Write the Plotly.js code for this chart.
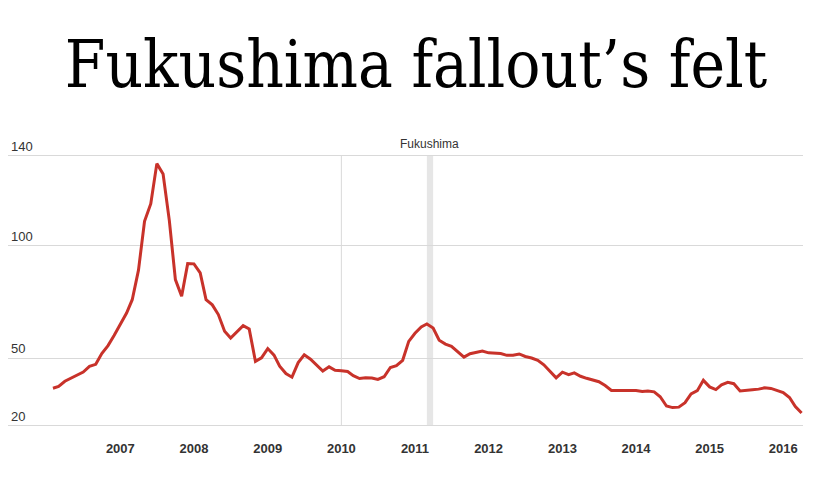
<!DOCTYPE html>
<html>
<head>
<meta charset="utf-8">
<script src="https://cdn.plot.ly/plotly-3.0.1.min.js"></script>
<style>html,body{margin:0;padding:0;background:#fff;}#chart{width:832px;height:486px;}</style>
</head>
<body>
<div id="chart"></div>
<script>
// Monthly series, starting February 2006
var startYear = 2006, startMonth = 2;
var values = [
  36.6,37.4,39.7,41.0,42.2,43.8,46.3,47.2,52.0,55.5,
  60.0,65.0,70.0,75.9,89.0,110.7,118.5,136.3,131.7,111.0,
  84.8,77.4,91.9,91.8,87.8,75.9,73.6,69.3,61.9,58.9,
  61.7,64.4,62.9,48.5,50.1,54.2,51.3,46.4,43.1,41.5,
  48.0,51.4,49.5,46.9,44.2,46.1,44.6,44.4,44.0,42.2,
  40.9,41.2,41.1,40.5,41.7,45.8,46.6,49.0,57.4,61.0,
  63.8,65.1,63.3,57.9,56.2,55.2,52.6,50.4,51.9,52.4,
  53.1,52.3,52.3,52.0,51.2,51.2,51.8,50.7,50.0,49.0,
  47.0,44.0,41.2,43.7,42.6,43.4,41.9,41.0,40.3,39.5,
  37.8,35.6,35.6,35.6,35.6,35.6,35.1,35.4,35.0,32.8,
  28.7,28.0,28.2,30.2,34.1,35.5,40.1,37.2,36.0,38.1,
  39.2,38.6,35.4,35.8,35.9,36.2,36.8,36.5,35.5,34.7,
  32.5,28.5,25.6
];
var yTickVals = [20, 50, 100, 140];
var yTickText = ["20", "50", "100", "140"];
var xTickYears = ["2007","2008","2009","2010","2011","2012","2013","2014","2015","2016"];
var eventLabel = "Fukushima";
var eventStart = "2011-03-01";
var eventEnd = "2011-04-01";
var markerLineDate = "2010-01-01";
var titleText = "Fukushima fallout’s felt";

var dates = [];
for (var i = 0; i < values.length; i++) {
  var m = startMonth - 1 + i;
  var y = startYear + Math.floor(m / 12);
  var mm = (m % 12) + 1;
  dates.push(y + "-" + (mm < 10 ? "0" + mm : mm) + "-01");
}
var xTickVals = xTickYears.map(function (yr) { return yr + "-01-01"; });

var trace = {
  x: dates, y: values, type: "scatter", mode: "lines",
  line: {color: "#c8322a", width: 3, shape: "linear"},
  hoverinfo: "skip"
};

var layout = {
  width: 832, height: 486,
  paper_bgcolor: "#fff", plot_bgcolor: "#fff",
  margin: {l: 8, r: 29, t: 135, b: 57},
  showlegend: false,
  title: {
    text: titleText,
    font: {family: "DejaVu Serif Condensed, DejaVu Serif, serif", size: 65, color: "#000"},
    x: 0.5, xanchor: "center", xref: "container",
    y: 1 - 64/486, yanchor: "middle", yref: "container"
  },
  xaxis: {
    type: "date",
    range: ["2005-06-23", "2016-04-08"],
    tickvals: xTickVals, ticktext: xTickYears,
    showgrid: false, zeroline: false, showline: false,
    ticks: "", ticklabelstandoff: 10,
    tickfont: {family: "Liberation Sans, Arial, sans-serif", size: 13, color: "#333", weight: "bold"}
  },
  yaxis: {
    range: [18.5, 149],
    tickvals: yTickVals, ticktext: yTickText,
    showgrid: true, gridcolor: "#d9d9d9", gridwidth: 1,
    zeroline: false, showline: false, ticks: "",
    ticklabelposition: "inside top",
    tickfont: {family: "Liberation Sans, Arial, sans-serif", size: 13, color: "#333"}
  },
  shapes: [
    {type: "rect", xref: "x", yref: "y", x0: eventStart, x1: eventEnd, y0: 20, y1: 140,
     fillcolor: "#e6e6e6", line: {width: 0}, layer: "below"},
    {type: "line", xref: "x", yref: "y", x0: markerLineDate, x1: markerLineDate, y0: 20, y1: 140,
     line: {color: "#d9d9d9", width: 1}, layer: "below"}
  ],
  annotations: [
    {text: eventLabel, xref: "x", yref: "y", x: "2011-03-16", y: 140, yanchor: "bottom",
     yshift: 2, showarrow: false,
     font: {family: "Liberation Sans, Arial, sans-serif", size: 12, color: "#333"}}
  ]
};

Plotly.newPlot("chart", [trace], layout, {staticPlot: true, displayModeBar: false});
</script>
</body>
</html>
